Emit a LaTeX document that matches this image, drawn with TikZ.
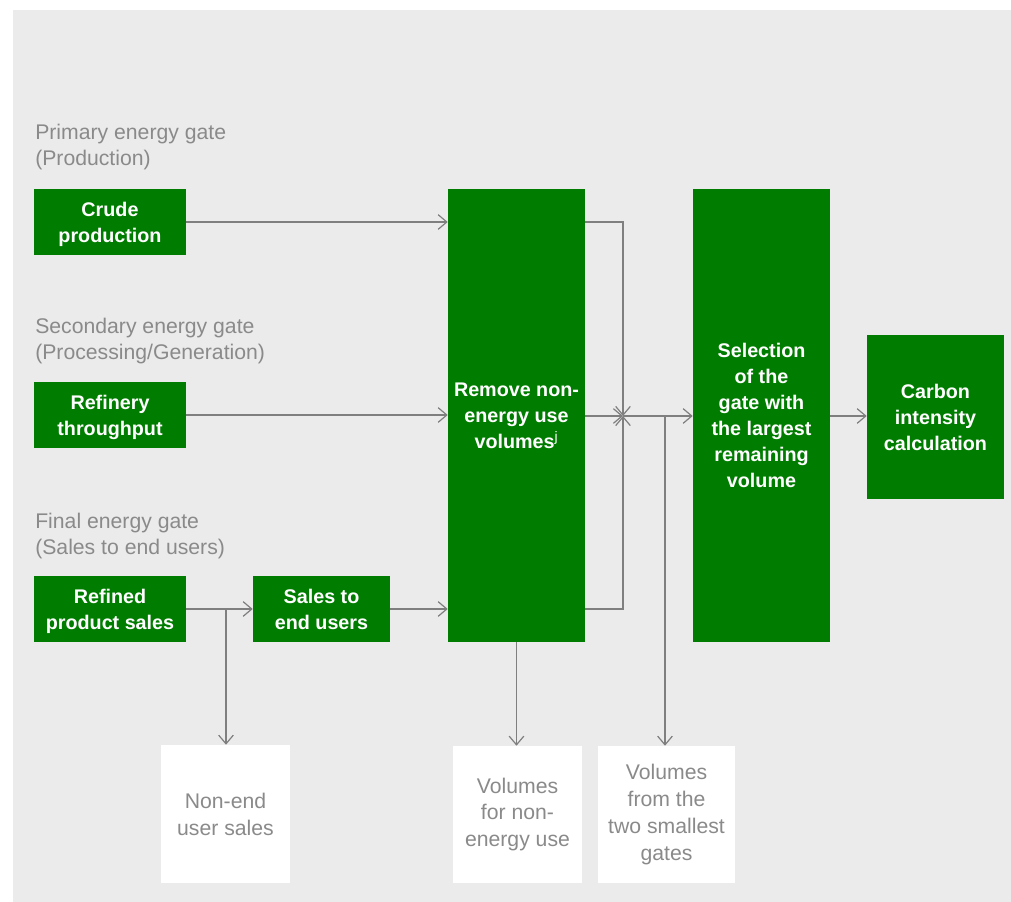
\documentclass[tikz,border=0pt]{standalone}
\usepackage{fontspec}
\setmainfont{Liberation Sans}
\usetikzlibrary{arrows.meta}
\definecolor{bg}{HTML}{EBEBEB}
\definecolor{gbox}{HTML}{007D00}
\definecolor{lbl}{HTML}{8A8A8A}
\definecolor{ln}{HTML}{7F7F7F}
\begin{document}
\begin{tikzpicture}[x=0.75pt,y=-0.75pt,
  gstep/.style={fill=gbox,text=white,inner sep=0pt,align=center,
    text depth=-1.5pt,
    font=\fontsize{14.8}{19.6}\selectfont\bfseries},
  wstep/.style={fill=white,text=lbl,inner sep=0pt,align=center,
    font=\fontsize{15.9}{20.2}\selectfont},
  gatelbl/.style={text=lbl,inner sep=0pt,anchor=base west,
    font=\fontsize{15.9}{19.5}\selectfont},
  arr/.style={draw=ln,line width=0.9pt,-{Straight Barb[length=6.5pt,width=11pt]}},
  plain/.style={draw=ln,line width=0.9pt}]
\useasboundingbox (0,0) rectangle (1011,902);
\fill[bg] (13,10) rectangle (1011,902);

% gate labels
\node[gatelbl] (l1a) at (35,140) {Primary energy gate};
\node[gatelbl] (l1b) at (35,166) {(Production)};
\node[gatelbl] (l2a) at (35,334) {Secondary energy gate};
\node[gatelbl] (l2b) at (35,360) {(Processing/Generation)};
\node[gatelbl] (l3a) at (35,528) {Final energy gate};
\node[gatelbl] (l3b) at (35,554) {(Sales to end users)};

% green boxes
\node[gstep,minimum width=114pt,minimum height=49.5pt] (crude) at (110,222) {Crude\\production};
\node[gstep,minimum width=114pt,minimum height=49.5pt] (refinery) at (110,415) {Refinery\\throughput};
\node[gstep,minimum width=114pt,minimum height=49.5pt] (refined) at (110,609) {Refined\\product sales};
\node[gstep,minimum width=102.75pt,minimum height=49.5pt] (sales) at (321.5,609) {Sales to\\end users};
\node[gstep,minimum width=102.75pt,minimum height=339.75pt] (remove) at (516.5,415.5) {Remove non-\\energy use\\volumes\textsuperscript{\normalfont j}};
\node[gstep,minimum width=102.75pt,minimum height=339.75pt] (select) at (761.5,415.5) {Selection\\of the\\gate with\\the largest\\remaining\\volume};
\node[gstep,minimum width=102.75pt,minimum height=123pt] (carbon) at (935.5,417) {Carbon\\intensity\\calculation};

% white boxes
\node[wstep,minimum width=96.75pt,minimum height=103.5pt] (nonend) at (225.5,814) {Non-end\\user sales};
\node[wstep,minimum width=96.75pt,minimum height=102.75pt] (vnon) at (517.5,814.5) {Volumes\\for non-\\energy use};
\node[wstep,minimum width=102.75pt,minimum height=102.75pt] (vsmall) at (666.5,814.5) {Volumes\\from the\\two smallest\\gates};

% junctions
\coordinate (J) at (623,416);
\coordinate (B) at (665,416);
\coordinate (N) at (226,609);

% connectors
\draw[arr] (crude.east) -- (crude.east -| remove.west);
\draw[arr] (refinery.east) -- (refinery.east -| remove.west);
\draw[arr] (refined.east) -- (sales.west);
\draw[arr] (N) -- (N |- nonend.north);
\draw[arr] (sales.east) -- (sales.east -| remove.west);
\draw[arr] (remove.east |- crude.east) -| (J);
\draw[arr] (remove.east |- sales.east) -| (J);
\draw[arr] (remove.east |- J) -- (J);
\draw[arr] (J) -- (J -| select.west);
\draw[arr] (B) -- (B |- vsmall.north);
\draw[arr] (remove.south) -- (remove.south |- vnon.north);
\draw[arr] (select.east |- J) -- (select.east |- J -| carbon.west);
\end{tikzpicture}
\end{document}
